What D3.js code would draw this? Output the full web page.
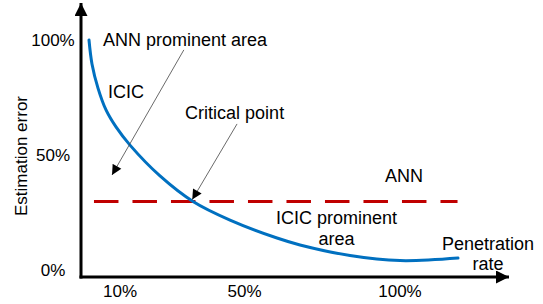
<!DOCTYPE html>
<html>
<head>
<meta charset="utf-8">
<script src="https://cdn.jsdelivr.net/npm/d3@7"></script>
<style>
  html, body { margin: 0; padding: 0; background: #fff; }
  svg text { font-family: "Liberation Sans", Arial, sans-serif; fill: #000; }
</style>
</head>
<body>
<div id="chart"></div>
<script>
// penetration rate (%) vs estimation error (%)
const icicX = [0, 0.96, 2.89, 5.47, 8.68, 13.18, 22.83, 33.44, 45.34, 60.45, 67.85, 83.92, 100, 118.65];
const icicY = [100, 89.6, 79.1, 69.6, 62.2, 54.3, 40.9, 29.8, 21.7, 13.9, 10.9, 6.3, 4.1, 5.2];
const annX = [1.6, 118.5];
const annY = [29.8, 29.8];

const xTicks = [10, 50, 100];
const yTicks = [0, 50, 100];

// annotation arrows: [fromX, fromY, toX, toY] in data units
const arrows = [
  [30.5, 95.7, 7.4, 41.3],
  [47.6, 63.5, 33.2, 30.6]
];

const labels = [
  { lines: ["ANN prominent area"], x: 4.5, y: 97.4, anchor: "start" },
  { lines: ["ICIC"], x: 6.1, y: 74.8, anchor: "start" },
  { lines: ["Critical point"], x: 30.9, y: 65.7, anchor: "start" },
  { lines: ["ANN"], x: 101.3, y: 38.3, anchor: "middle" },
  { lines: ["ICIC prominent", "area"], x: 79.6, y: 20, anchor: "middle" },
  { lines: ["Penetration", "rate"], x: 128.3, y: 8.7, anchor: "middle" }
];

const width = 543, height = 304;
const axisX = 81, axisY = 277;

const x = d3.scaleLinear().domain([0, 100]).range([89, 400]);
const y = d3.scaleLinear().domain([0, 100]).range([270, 40]);

const svg = d3.select("#chart").append("svg")
  .attr("width", width).attr("height", height);

const defs = svg.append("defs");
defs.append("marker").attr("id", "axisHead")
  .attr("viewBox", "0 0 10 10").attr("refX", 10).attr("refY", 5)
  .attr("markerWidth", 13).attr("markerHeight", 13)
  .attr("markerUnits", "userSpaceOnUse").attr("orient", "auto")
  .append("path").attr("d", "M0,0L10,5L0,10Z").attr("fill", "#000");
defs.append("marker").attr("id", "noteHead")
  .attr("viewBox", "0 0 10 10").attr("refX", 10).attr("refY", 5)
  .attr("markerWidth", 11).attr("markerHeight", 10)
  .attr("markerUnits", "userSpaceOnUse").attr("orient", "auto")
  .append("path").attr("d", "M0,0L10,5L0,10Z").attr("fill", "#000");

// axes
svg.append("line")
  .attr("x1", axisX - 1.5).attr("y1", axisY).attr("x2", 509).attr("y2", axisY)
  .attr("stroke", "#000").attr("stroke-width", 3).attr("marker-end", "url(#axisHead)");
svg.append("line")
  .attr("x1", axisX).attr("y1", axisY + 1.5).attr("x2", axisX).attr("y2", 3)
  .attr("stroke", "#000").attr("stroke-width", 3).attr("marker-end", "url(#axisHead)");

// tick labels (no tick marks in the original)
svg.append("g").selectAll("text").data(xTicks).enter()
  .append("text")
  .attr("x", d => x(d)).attr("y", 297)
  .attr("text-anchor", "middle").style("font-size", "17px")
  .text(d => d + "%");

svg.append("g").selectAll("text").data(yTicks).enter()
  .append("text")
  .attr("x", 53).attr("y", d => y(d) + 6)
  .attr("text-anchor", "middle").style("font-size", "17px")
  .text(d => d + "%");

svg.append("text")
  .attr("transform", "translate(27,156) rotate(-90)")
  .attr("text-anchor", "middle").style("font-size", "17px")
  .text("Estimation error");

// ANN dashed line
const line = d3.line().x(d => x(d[0])).y(d => y(d[1]));
svg.append("path")
  .datum(d3.zip(annX, annY))
  .attr("d", line)
  .attr("fill", "none").attr("stroke", "#c00000")
  .attr("stroke-width", 3).attr("stroke-dasharray", "24.5,14");

// ICIC curve
svg.append("path")
  .datum(d3.zip(icicX, icicY))
  .attr("d", line.curve(d3.curveCatmullRom.alpha(0.5)))
  .attr("fill", "none").attr("stroke", "#0070c0")
  .attr("stroke-width", 3).attr("stroke-linecap", "round");

// annotation arrows
svg.append("g").selectAll("line").data(arrows).enter()
  .append("line")
  .attr("x1", d => x(d[0])).attr("y1", d => y(d[1]))
  .attr("x2", d => x(d[2])).attr("y2", d => y(d[3]))
  .attr("stroke", "#444").attr("stroke-width", 0.8)
  .attr("marker-end", "url(#noteHead)");

// text labels
const lab = svg.append("g").selectAll("text").data(labels).enter()
  .append("text")
  .attr("x", d => x(d.x)).attr("y", d => y(d.y))
  .attr("text-anchor", d => d.anchor)
  .style("font-size", "18px");
lab.selectAll("tspan").data(d => d.lines.map((t, i) => ({ t, i, x: d.x }))).enter()
  .append("tspan")
  .attr("x", d => x(d.x))
  .attr("dy", d => d.i ? 20.5 : 0)
  .text(d => d.t);
</script>
</body>
</html>
